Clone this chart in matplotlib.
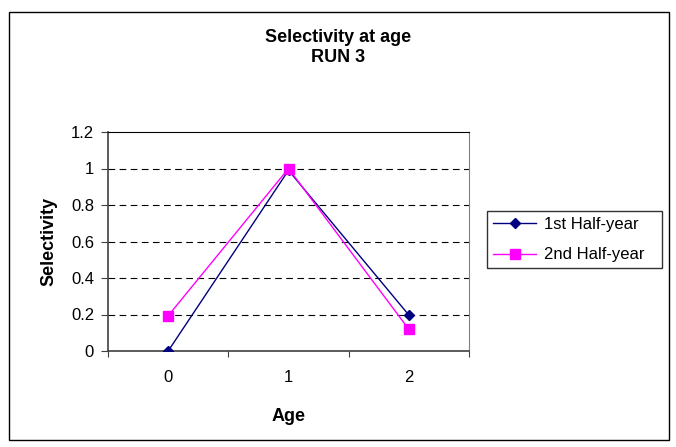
import matplotlib
matplotlib.use("Agg")
import matplotlib.pyplot as plt
from matplotlib.patches import Rectangle

plt.rcParams['font.family'] = ['Liberation Sans', 'DejaVu Sans']

ages = ["0", "1", "2"]
first_half = [0.0, 0.99, 0.197]
second_half = [0.193, 1.0, 0.119]
yticks = [0, 0.2, 0.4, 0.6, 0.8, 1, 1.2]
ytick_labels = ["0", "0.2", "0.4", "0.6", "0.8", "1", "1.2"]

W, H = 676, 447
fig = plt.figure(figsize=(W / 100, H / 100), dpi=100)

# outer chart border
fig.patches.append(Rectangle((9 / W, 1 - 440 / H), 660 / W, 428 / H,
                             transform=fig.transFigure, fill=False,
                             edgecolor="black", linewidth=1))

ax = fig.add_axes([108 / W, 96 / H, 361 / W, 219 / H])
x = range(len(ages))
ax.plot(x, first_half, color="#000080", marker="D", markersize=5.5,
        linewidth=1, label="1st Half-year", zorder=3)
ax.plot(x, second_half, color="#FF00FF", marker="s", markersize=6.5,
        linewidth=1, label="2nd Half-year", zorder=3)

ax.set_xlim(-0.5, 2.5)
ax.set_ylim(0, 1.2)
ax.set_xticks([-0.5, 0.5, 1.5, 2.5])
ax.set_xticklabels([])
ax.set_xticks(list(x), minor=True)
ax.set_xticklabels(ages, minor=True, fontsize=12)
ax.tick_params(axis="x", which="minor", length=0, pad=14)
ax.tick_params(axis="x", which="major", direction="out", length=4, color="#404040")
ax.set_yticks(yticks)
ax.set_yticklabels(ytick_labels, fontsize=12)
ax.tick_params(axis="y", direction="out", length=5, color="#404040", pad=5)

for v in yticks[1:-1]:
    ax.axhline(v, color="black", linestyle=(0, (6, 4)), linewidth=0.8, zorder=1)

for side in ["left", "bottom"]:
    ax.spines[side].set_color("#404040")
    ax.spines[side].set_linewidth(1.2)
ax.spines["right"].set_color("#808080")
ax.spines["top"].set_color("black")

ax.set_xlabel("Age", fontsize=13, fontweight="bold", labelpad=16)
ax.set_ylabel("Selectivity", fontsize=13, fontweight="bold", labelpad=10)

fig.text(338 / W, 1 - 37 / H, "Selectivity at age", ha="center", va="center",
         fontsize=13, fontweight="bold")
fig.text(338 / W, 1 - 57 / H, "RUN 3", ha="center", va="center",
         fontsize=13, fontweight="bold")

leg = ax.legend(loc="center left", bbox_to_anchor=(487 / W, 1 - 272 / H, 175 / W, 65 / H),
                bbox_transform=fig.transFigure, mode="expand", fontsize=12,
                frameon=True, fancybox=False, edgecolor="black", borderpad=0.35,
                borderaxespad=0, handlelength=2.6, handletextpad=0.5, labelspacing=0.95)
leg.get_frame().set_linewidth(1)

fig.savefig("out.png", dpi=100)
